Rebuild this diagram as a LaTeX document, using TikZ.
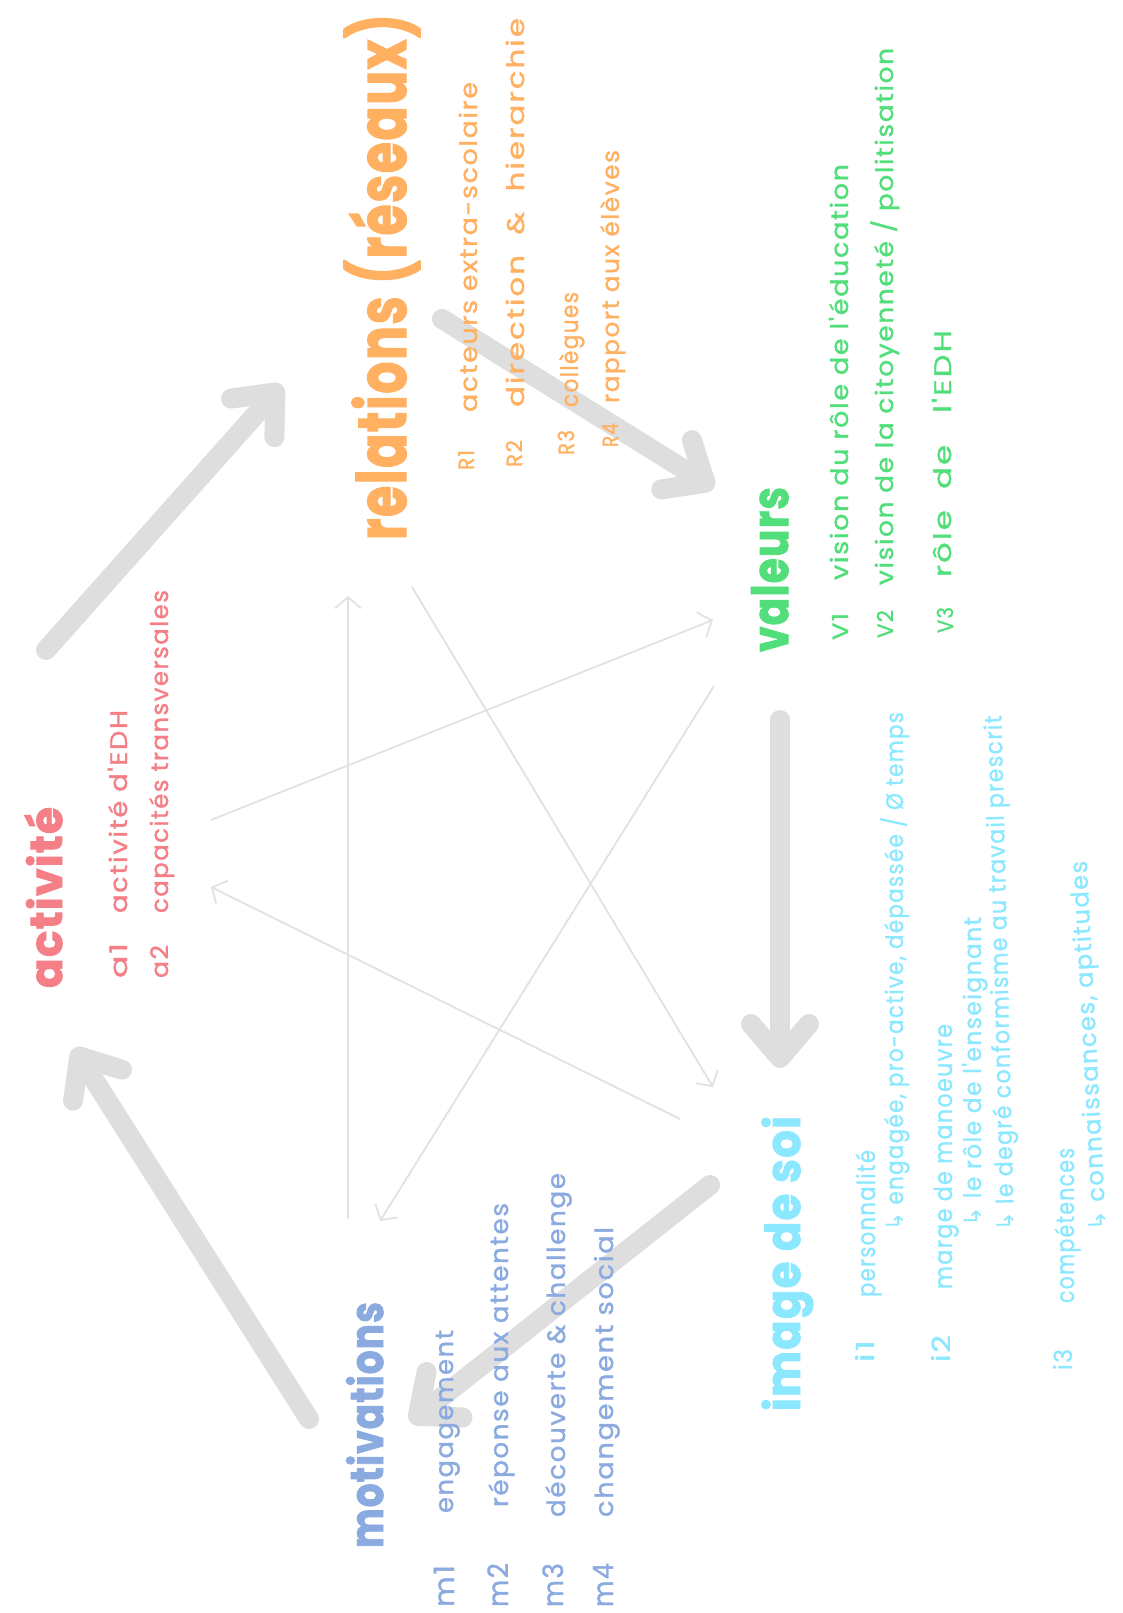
\documentclass[tikz,border=0pt]{standalone}
\usepackage{graphicx}
\usepackage{fontspec}
\setmainfont{Poppins}
\newfontfamily\handfont{Poppins}[LetterSpace=6, FakeBold=1.2]
\newfontfamily\titlefont{Poppins}[LetterSpace=3, BoldFeatures={FakeBold=2}]
\newfontfamily\symfont{DejaVu Sans}
\usetikzlibrary{arrows.meta}
\definecolor{cpink}{HTML}{F47F87}
\definecolor{corange}{HTML}{FFB060}
\definecolor{cgreen}{HTML}{52DE7A}
\definecolor{ccyan}{HTML}{8CE8FF}
\definecolor{cblue}{HTML}{8AAAE0}
\definecolor{thickgray}{HTML}{DEDEDE}
\definecolor{thingray}{HTML}{E2E2E2}
\newcommand\fitw[2]{\resizebox{#1pt}{\height}{#2}}
\newcommand\hk{{\symfont ↳}\hspace{0.35em}}
\tikzset{
  lbl/.style={rotate=90, anchor=base west, inner sep=0pt, outer sep=0pt},
  ttl/.style={lbl, font=\titlefont\bfseries\fontsize{#1}{#1}\selectfont},
  sm/.style={lbl, font=\handfont\fontsize{#1}{#1}\selectfont},
  big/.style={line width=20pt, draw=thickgray, line cap=round,
    -{Straight Barb[length=34pt,width=58pt,round]}},
  thin/.style={line width=1.8pt, draw=thingray,
    -{Straight Barb[length=11pt,width=26pt]}},
}
\begin{document}
\begin{tikzpicture}[x=1pt,y=-1pt]
\fill[white] (0,0) rectangle (1123,1613);
\useasboundingbox (0,0) rectangle (1123,1613);

% ---------- connector end points ----------
\coordinate (actOut) at (46,650);   \coordinate (relIn) at (282,385);
\coordinate (relOut) at (442,319);  \coordinate (valIn) at (714,488);
\coordinate (valOut) at (780,720);  \coordinate (imgIn) at (780,1068);
\coordinate (imgOut) at (710,1185); \coordinate (motIn) at (410,1422);
\coordinate (motOut) at (309,1419); \coordinate (actIn) at (74,1048);

\coordinate (motT) at (348,1219);   \coordinate (relB) at (348,596);
\coordinate (actV) at (211,820);    \coordinate (valA) at (713,620);
\coordinate (imgA) at (680,1119);   \coordinate (actI) at (211,887);
\coordinate (relI) at (412,587);    \coordinate (imgR) at (713,1087);
\coordinate (valM) at (714,686);    \coordinate (motV) at (380,1221);

% ---------- thin connectors ----------
\draw[thin] (motT) -- (relB);
\draw[thin] (actV) -- (valA);
\draw[thin] (imgA) -- (actI);
\draw[thin] (relI) -- (imgR);
\draw[thin] (valM) -- (motV);

% ---------- thick connectors ----------
\draw[big] (actOut) -- (relIn);
\draw[big] (relOut) -- (valIn);
\draw[big] (valOut) -- (imgIn);
\draw[big] (imgOut) -- (motIn);
\draw[big] (motOut) -- (actIn);

% ---------- activité ----------
\node[ttl=45, text=cpink] (activite) at (62,988) {\fitw{181}{activité}};
\node[sm=24, text=cpink] (a1) at (127,978) {\fitw{35}{a1}};
\node[sm=24, text=cpink] (a1t) at (127,913) {\fitw{203}{activité d'EDH}};
\node[sm=24, text=cpink] (a2) at (168,978) {\fitw{33}{a2}};
\node[sm=24, text=cpink] (a2t) at (168,913) {\fitw{323}{capacités transversales}};

% ---------- relations ----------
\node[ttl=68, text=corange] (relations) at (406,540) {\fitw{526}{relations (réseaux)}};
\node[sm=22, text=corange] (r1) at (474,470) {\fitw{20}{R1}};
\node[sm=24, text=corange] (r1t) at (477,412) {\fitw{330}{acteurs extra-scolaire}};
\node[sm=22, text=corange] (r2) at (522,467) {\fitw{27}{R2}};
\node[sm=24, text=corange] (r2t) at (524,407) {\fitw{389}{direction \ \& \ hierarchie}};
\node[sm=22, text=corange] (r3) at (574,455) {\fitw{25}{R3}};
\node[sm=24, text=corange] (r3t) at (578,407) {\fitw{115}{collègues}};
\node[sm=22, text=corange] (r4) at (618,447) {\fitw{24}{R4}};
\node[sm=24, text=corange] (r4t) at (619,403) {\fitw{253}{rapport aux élèves}};

% ---------- valeurs ----------
\node[ttl=50, text=cgreen] (valeurs) at (788,652) {\fitw{165}{valeurs}};
\node[sm=22, text=cgreen] (v1) at (848,640) {\fitw{27}{V1}};
\node[sm=24, text=cgreen] (v1t) at (848,580) {\fitw{416}{vision du rôle de l'éducation}};
\node[sm=22, text=cgreen] (v2) at (893,638) {\fitw{28}{V2}};
\node[sm=24, text=cgreen] (v2t) at (893,585) {\fitw{537}{vision de la citoyenneté / politisation}};
\node[sm=22, text=cgreen] (v3) at (953,633) {\fitw{26}{V3}};
\node[sm=24, text=cgreen] (v3t) at (951,577) {\fitw{247}{rôle \ de \ \ l'EDH}};

% ---------- image de soi ----------
\node[ttl=48, text=ccyan] (image) at (800,1411) {\fitw{295}{image de soi}};
\node[sm=25, text=ccyan] (i1) at (874,1362) {\fitw{22}{i1}};
\node[sm=25, text=ccyan] (i1t) at (875,1297) {\fitw{147}{personnalité}};
\node[sm=24, text=ccyan] (i1s) at (903,1230) {\fitw{518}{\hk engagée, pro-active, dépassée / Ø temps}};
\node[sm=25, text=ccyan] (i2) at (950,1362) {\fitw{27}{i2}};
\node[sm=25, text=ccyan] (i2t) at (952,1289) {\fitw{265}{marge de manoeuvre}};
\node[sm=24, text=ccyan] (i2s) at (981,1226) {\fitw{309}{\hk le rôle de l'enseignant}};
\node[sm=24, text=ccyan, rotate=1.4] (i2u) at (1014,1230) {\fitw{515}{\hk le degré conformisme au travail prescrit}};
\node[sm=25, text=ccyan] (i3) at (1072,1370) {\fitw{21}{i3}};
\node[sm=25, text=ccyan] (i3t) at (1074,1303) {\fitw{155}{compétences}};
\node[sm=24, text=ccyan, rotate=3] (i3s) at (1106,1230) {\fitw{370}{\hk connaissances, aptitudes}};

% ---------- motivations ----------
\node[ttl=46, text=cblue] (motivations) at (383,1548) {\fitw{246}{motivations}};
\node[sm=28, text=cblue] (m1) at (454,1607) {\fitw{42}{m1}};
\node[sm=25, text=cblue] (m1t) at (453,1513) {\fitw{183}{engagement}};
\node[sm=28, text=cblue] (m2) at (508,1607) {\fitw{44}{m2}};
\node[sm=25, text=cblue] (m2t) at (508,1507) {\fitw{304}{réponse aux attentes}};
\node[sm=28, text=cblue] (m3) at (563,1607) {\fitw{44}{m3}};
\node[sm=25, text=cblue] (m3t) at (565,1517) {\fitw{344}{découverte \& challenge}};
\node[sm=28, text=cblue] (m4) at (613,1607) {\fitw{44}{m4}};
\node[sm=25, text=cblue] (m4t) at (613,1517) {\fitw{290}{changement social}};
\end{tikzpicture}
\end{document}
